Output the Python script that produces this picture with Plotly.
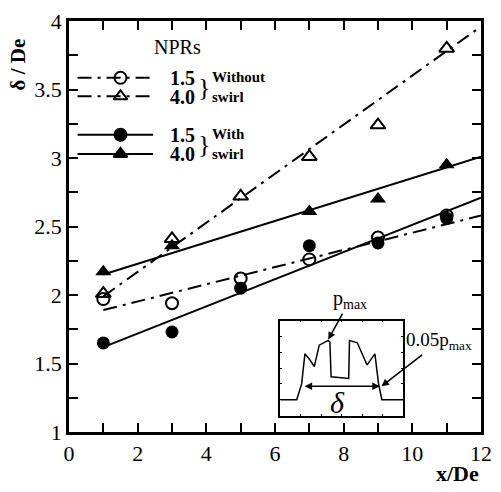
import plotly.graph_objects as go

# ---------------- data ----------------
x_pts = [1, 3, 5, 7, 9, 11]
npr15_noswirl = [1.97, 1.94, 2.12, 2.26, 2.42, 2.58]
npr40_noswirl = [2.01, 2.41, 2.72, 3.01, 3.24, 3.80]
npr15_swirl = [1.65, 1.73, 2.05, 2.36, 2.38, 2.56]
x_pts40_swirl = [1, 3, 7, 9, 11]
npr40_swirl = [2.17, 2.36, 2.61, 2.70, 2.95]

fit_x = [1, 12]
fit15_noswirl = [1.89, 2.58]
fit40_noswirl = [1.99, 3.96]
fit15_swirl = [1.62, 2.71]
fit40_swirl = [2.15, 3.01]

# inset pressure profile
inset_x = [-1.5, -1.10, -0.98, -0.90, -0.80, -0.67, -0.55, -0.33, -0.29, -0.26,
           0.17, 0.19, 0.38, 0.62, 0.81, 0.90, 0.98, 1.5]
inset_y = [0.0, 0.0, 0.20, 0.58, 0.52, 0.42, 0.69, 0.75, 0.73, 0.29,
           0.27, 0.75, 0.72, 0.44, 0.58, 0.20, 0.0, 0.0]

# legend layout (data-space positions)
leg_x_line = [0.25, 2.45]
leg_x_mark = [1.5]
leg_rows_y = [3.585, 3.45, 3.17, 3.03]
leg_labels = ["1.5", "4.0", "1.5", "4.0"]

SERIF = "Liberation Serif"
DASHDOT = "14px,6px,3px,6px"

fig = go.Figure()

# fit lines
for fy, dash in [(fit15_noswirl, DASHDOT), (fit40_noswirl, DASHDOT),
                 (fit15_swirl, "solid"), (fit40_swirl, "solid")]:
    fig.add_trace(go.Scatter(x=fit_x, y=fy, mode="lines",
                             line=dict(color="black", width=2, dash=dash), showlegend=False))

# markers
fig.add_trace(go.Scatter(x=x_pts, y=npr15_noswirl, mode="markers",
                         marker=dict(symbol="circle-open", size=12, color="black", line=dict(width=2)),
                         showlegend=False))
fig.add_trace(go.Scatter(x=x_pts, y=npr40_noswirl, mode="markers",
                         marker=dict(symbol="triangle-up-open", size=13, color="black", line=dict(width=2)),
                         showlegend=False))
fig.add_trace(go.Scatter(x=x_pts, y=npr15_swirl, mode="markers",
                         marker=dict(symbol="circle", size=13, color="black"),
                         showlegend=False))
fig.add_trace(go.Scatter(x=x_pts40_swirl, y=npr40_swirl, mode="markers",
                         marker=dict(symbol="triangle-up", size=14, color="black"),
                         showlegend=False))

# manual legend
leg_styles = [
    (DASHDOT, "circle-open"),
    (DASHDOT, "triangle-up-open"),
    ("solid", "circle"),
    ("solid", "triangle-up"),
]
for yy, (dash, sym) in zip(leg_rows_y, leg_styles):
    fig.add_trace(go.Scatter(x=leg_x_line, y=[yy, yy], mode="lines",
                             line=dict(color="black", width=2, dash=dash), showlegend=False))
    fig.add_trace(go.Scatter(x=leg_x_mark, y=[yy], mode="markers",
                             marker=dict(symbol=sym, size=12, color="black",
                                         line=dict(width=2, color="black")),
                             showlegend=False))

annotations = []
annotations.append(dict(x=3.15, y=3.81, xref="x", yref="y", text="NPRs", showarrow=False,
                        font=dict(family=SERIF, size=20, color="black")))
for yy, lab in zip(leg_rows_y, leg_labels):
    annotations.append(dict(x=3.32, y=yy, xref="x", yref="y", text="<b>%s</b>" % lab, showarrow=False,
                            height=17, font=dict(family=SERIF, size=20, color="black")))
for y0, y1, lab in [(leg_rows_y[0], leg_rows_y[1], "Without<br>swirl"),
                    (leg_rows_y[2], leg_rows_y[3], "With<br>swirl")]:
    ym = (y0 + y1) / 2
    annotations.append(dict(x=3.93, y=ym, xref="x", yref="y", text="}", showarrow=False,
                            font=dict(family=SERIF, size=26, color="black")))
    annotations.append(dict(x=4.1, y=ym, xref="x", yref="y", text="<b>%s</b>" % lab, showarrow=False,
                            xanchor="left", align="left",
                            font=dict(family=SERIF, size=15, color="black")))

# inset curve
fig.add_trace(go.Scatter(x=inset_x, y=inset_y, mode="lines", xaxis="x2", yaxis="y2",
                         line=dict(color="black", width=1.5), showlegend=False))

# inset annotations
annotations.append(dict(x=-0.33, y=0.76, xref="x2", yref="y2", ax=22, ay=-40,
                        text="p<sub>max</sub>", showarrow=True, arrowhead=2, arrowsize=1,
                        arrowwidth=1.5, arrowcolor="black",
                        font=dict(family=SERIF, size=20, color="black")))
annotations.append(dict(x=0.97, y=0.17, xref="x2", yref="y2", ax=58, ay=-45,
                        text="0.05p<sub>max</sub>", showarrow=True, arrowhead=2, arrowsize=1,
                        arrowwidth=1.5, arrowcolor="black",
                        font=dict(family=SERIF, size=19, color="black")))
annotations.append(dict(x=0.93, y=0.17, xref="x2", yref="y2", ax=-0.98, ay=0.17,
                        axref="x2", ayref="y2", text=" ", showarrow=True,
                        arrowhead=2, startarrowhead=2, arrowside="end+start", arrowsize=1,
                        arrowwidth=1.5, arrowcolor="black", font=dict(size=10)))
annotations.append(dict(x=-0.1, y=-0.04, xref="x2", yref="y2", text="<i>δ</i>", showarrow=False,
                        font=dict(family=SERIF, size=30, color="black")))

# axis titles positioned like the original
annotations.append(dict(x=1.0, y=-0.102, xref="paper", yref="paper", xanchor="right", yanchor="middle",
                        text="<b>x/De</b>", showarrow=False,
                        font=dict(family=SERIF, size=22, color="black")))
annotations.append(dict(x=-0.123, y=0.895, xref="paper", yref="paper", xanchor="center",
                        yanchor="middle", text="<b>δ / De</b>", textangle=-90, showarrow=False,
                        font=dict(family=SERIF, size=21, color="black")))

fig.update_layout(
    width=501, height=492,
    margin=dict(l=69, r=9, t=12, b=60),
    paper_bgcolor="white", plot_bgcolor="white",
    font=dict(family=SERIF, size=22, color="black"),
    annotations=annotations,
    xaxis=dict(range=[0, 12], dtick=2, ticks="inside", ticklen=9, tickwidth=2, tickcolor="black",
               minor=dict(dtick=1, ticks="inside", ticklen=9, tickwidth=2, tickcolor="black"),
               showline=True, linewidth=2.5, linecolor="black", mirror="ticks",
               showgrid=False, zeroline=False, ticklabeloverflow="allow",
               tickfont=dict(family=SERIF, size=22, color="black")),
    yaxis=dict(range=[1, 4], dtick=0.5, ticks="inside", ticklen=9, tickwidth=2, tickcolor="black",
               minor=dict(dtick=0.25, ticks="inside", ticklen=9, tickwidth=2, tickcolor="black"),
               showline=True, linewidth=2.5, linecolor="black", mirror="ticks",
               showgrid=False, zeroline=False, ticklabeloverflow="allow",
               tickfont=dict(family=SERIF, size=22, color="black")),
    xaxis2=dict(domain=[0.513, 0.811], anchor="y2", range=[-1.5, 1.5], dtick=0.5,
                ticks="inside", ticklen=2, tickwidth=1, tickcolor="black",
                showline=True, linewidth=1.5, linecolor="black", mirror="ticks",
                showgrid=False, zeroline=False, showticklabels=False),
    yaxis2=dict(domain=[0.04, 0.271], anchor="x2", range=[-0.2, 1.0], dtick=0.2,
                ticks="inside", ticklen=2, tickwidth=1, tickcolor="black",
                showline=True, linewidth=1.5, linecolor="black", mirror="ticks",
                showgrid=False, zeroline=False, showticklabels=False),
)

fig.write_html("out.html", config={"displayModeBar": False},
               post_script="document.body.style.margin='0px';document.body.style.overflow='hidden';")
